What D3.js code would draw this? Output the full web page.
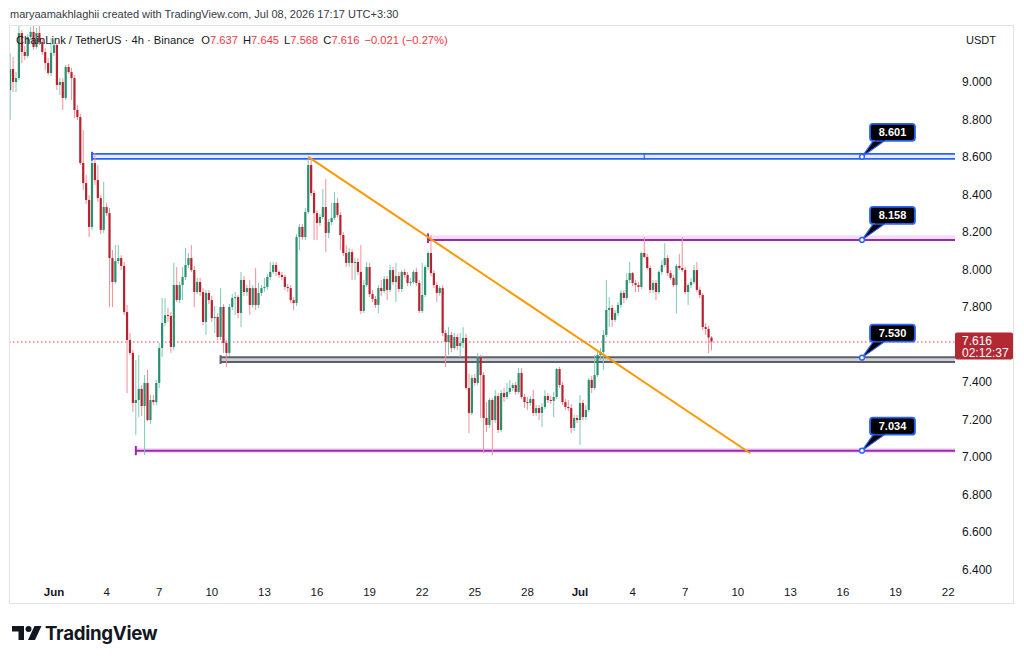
<!DOCTYPE html>
<html>
<head>
<meta charset="utf-8">
<script src="https://cdn.jsdelivr.net/npm/d3@7"></script>
<style>
  body { margin: 0; background: #fff; }
  svg { display: block; font-family: "Liberation Sans", Arial, sans-serif; }
</style>
</head>
<body>
<svg id="chart" width="1024" height="660"></svg>
<script>
// LINK/USDT 4h candles, first bar May 29 12:00, one bar every 4 hours
const firstBar = Date.UTC(2026, 4, 29, 12);
const barHours = 4;

const opens = [
  8.957, 9.069, 9.000, 9.021, 9.261, 9.160, 9.139, 9.240, 9.267, 9.187,
  9.261, 9.213, 9.160, 9.101, 9.048, 9.155, 9.197, 8.984, 9.000, 8.915,
  9.080, 9.053, 9.021, 8.851, 8.813, 8.568, 8.461, 8.371, 8.227, 8.568,
  8.477, 8.381, 8.211, 8.333, 8.301, 8.061, 7.933, 8.045, 8.061, 8.019,
  7.773, 7.624, 7.555, 7.288, 7.304, 7.363, 7.272, 7.395, 7.197, 7.304,
  7.293, 7.395, 7.581, 7.715, 7.757, 7.752, 7.587, 7.917, 7.837, 7.917,
  7.960, 8.024, 8.061, 7.997, 7.880, 7.933, 7.880, 7.720, 7.875, 7.837,
  7.741, 7.747, 7.640, 7.800, 7.608, 7.555, 7.800, 7.848, 7.853, 7.768,
  7.944, 7.880, 7.901, 7.811, 7.901, 7.811, 7.875, 7.901, 7.907, 7.960,
  7.987, 8.024, 7.987, 7.971, 7.960, 7.907, 7.901, 7.837, 7.821, 8.173,
  8.227, 8.173, 8.307, 8.557, 8.408, 8.301, 8.248, 8.280, 8.333, 8.195,
  8.253, 8.275, 8.355, 8.291, 8.184, 8.088, 8.035, 8.093, 8.035, 8.040,
  7.987, 7.779, 7.917, 8.013, 7.869, 7.843, 7.811, 7.901, 7.885, 7.949,
  7.891, 7.997, 7.933, 7.965, 7.896, 7.987, 7.971, 7.928, 7.933, 7.987,
  7.928, 7.779, 7.864, 8.013, 8.088, 7.981, 7.917, 7.875, 7.901, 7.661,
  7.613, 7.651, 7.581, 7.640, 7.592, 7.608, 7.635, 7.368, 7.235, 7.421,
  7.395, 7.533, 7.437, 7.208, 7.171, 7.304, 7.197, 7.325, 7.144, 7.341,
  7.320, 7.347, 7.368, 7.384, 7.347, 7.448, 7.320, 7.293, 7.288, 7.309,
  7.235, 7.261, 7.235, 7.267, 7.325, 7.304, 7.299, 7.320, 7.469, 7.384,
  7.293, 7.267, 7.261, 7.155, 7.208, 7.197, 7.288, 7.213, 7.251, 7.411,
  7.368, 7.437, 7.544, 7.560, 7.651, 7.784, 7.795, 7.731, 7.768, 7.811,
  7.875, 7.848, 7.944, 7.981, 7.928, 7.917, 7.907, 8.088, 8.067, 8.008,
  7.891, 7.928, 7.880, 7.987, 8.024, 8.061, 7.981, 7.955, 7.917, 8.019,
  8.008, 7.997, 7.880, 7.917, 7.933, 7.997, 7.891, 7.864, 7.693, 7.683,
  7.637
];

const highs = [
  9.155, 9.133, 9.053, 9.304, 9.277, 9.192, 9.256, 9.293, 9.304, 9.288,
  9.299, 9.235, 9.181, 9.128, 9.235, 9.224, 9.208, 9.021, 9.021, 9.091,
  9.096, 9.075, 9.037, 8.877, 8.829, 8.744, 8.504, 8.397, 8.584, 8.621,
  8.557, 8.397, 8.467, 8.355, 8.328, 8.104, 8.131, 8.131, 8.077, 8.040,
  7.811, 7.661, 7.571, 7.517, 7.544, 7.384, 7.437, 7.464, 7.331, 7.331,
  7.411, 7.608, 7.848, 7.848, 7.795, 7.773, 8.035, 8.013, 7.933, 8.013,
  8.115, 8.088, 8.131, 8.019, 7.955, 7.955, 7.901, 7.891, 7.891, 7.859,
  7.805, 7.768, 7.901, 7.816, 7.624, 7.816, 7.869, 7.880, 7.864, 7.987,
  7.965, 7.917, 7.944, 7.917, 8.008, 7.928, 7.917, 7.955, 7.976, 8.040,
  8.040, 8.040, 7.997, 7.987, 7.971, 7.923, 7.917, 7.853, 8.189, 8.243,
  8.243, 8.328, 8.605, 8.595, 8.424, 8.317, 8.296, 8.429, 8.483, 8.269,
  8.355, 8.413, 8.381, 8.307, 8.200, 8.131, 8.115, 8.109, 8.061, 8.061,
  8.131, 7.944, 8.040, 8.035, 7.891, 7.859, 7.917, 7.944, 7.965, 7.965,
  8.024, 8.013, 8.035, 7.987, 7.997, 8.003, 7.987, 7.955, 7.997, 8.008,
  7.944, 8.035, 8.024, 8.099, 8.184, 7.997, 7.933, 7.912, 7.917, 7.677,
  7.693, 7.667, 7.661, 7.656, 7.661, 7.693, 7.656, 7.443, 7.437, 7.443,
  7.555, 7.544, 7.453, 7.293, 7.315, 7.315, 7.357, 7.341, 7.357, 7.368,
  7.395, 7.411, 7.395, 7.400, 7.475, 7.475, 7.336, 7.320, 7.325, 7.357,
  7.277, 7.277, 7.288, 7.357, 7.341, 7.325, 7.347, 7.475, 7.480, 7.400,
  7.309, 7.304, 7.283, 7.224, 7.224, 7.331, 7.304, 7.277, 7.421, 7.432,
  7.544, 7.571, 7.581, 7.677, 7.944, 7.853, 7.811, 7.784, 7.827, 7.891,
  7.891, 7.981, 8.040, 7.987, 7.944, 7.933, 8.093, 8.173, 8.083, 8.024,
  7.944, 7.944, 7.997, 8.051, 8.141, 8.077, 7.997, 7.971, 8.029, 8.083,
  8.173, 8.013, 7.928, 7.955, 8.024, 8.040, 7.907, 7.875, 7.715, 7.699,
  7.645
];

const lows = [
  8.797, 8.947, 8.947, 9.011, 9.101, 9.117, 9.128, 9.224, 9.171, 9.176,
  9.197, 9.144, 9.064, 9.037, 9.032, 9.139, 8.957, 8.931, 8.851, 8.904,
  9.043, 8.904, 8.808, 8.797, 8.557, 8.424, 8.349, 8.173, 8.211, 8.451,
  8.360, 8.189, 8.195, 8.285, 7.800, 7.800, 7.923, 8.029, 7.997, 7.757,
  7.341, 7.544, 7.240, 7.117, 7.213, 7.219, 7.010, 7.192, 7.176, 7.277,
  7.277, 7.368, 7.533, 7.699, 7.720, 7.555, 7.571, 7.827, 7.821, 7.837,
  7.944, 8.008, 7.987, 7.800, 7.869, 7.859, 7.704, 7.651, 7.816, 7.720,
  7.661, 7.624, 7.624, 7.555, 7.480, 7.539, 7.784, 7.757, 7.741, 7.693,
  7.859, 7.859, 7.757, 7.795, 7.784, 7.795, 7.859, 7.880, 7.891, 7.944,
  7.976, 7.965, 7.955, 7.944, 7.891, 7.880, 7.821, 7.784, 7.805, 8.104,
  8.157, 8.157, 8.296, 8.392, 8.157, 8.157, 8.232, 8.269, 8.093, 8.168,
  8.237, 8.264, 8.280, 8.104, 8.072, 8.013, 8.013, 7.944, 7.944, 7.971,
  7.763, 7.768, 7.907, 7.853, 7.827, 7.795, 7.768, 7.859, 7.875, 7.837,
  7.880, 7.917, 7.827, 7.880, 7.880, 7.955, 7.912, 7.912, 7.923, 7.912,
  7.768, 7.768, 7.853, 7.997, 7.965, 7.901, 7.827, 7.859, 7.645, 7.480,
  7.544, 7.560, 7.571, 7.571, 7.533, 7.581, 7.357, 7.128, 7.224, 7.379,
  7.384, 7.208, 7.021, 7.133, 7.155, 7.011, 7.181, 7.128, 7.133, 7.293,
  7.309, 7.336, 7.352, 7.331, 7.336, 7.309, 7.261, 7.251, 7.272, 7.219,
  7.219, 7.197, 7.160, 7.256, 7.288, 7.283, 7.213, 7.309, 7.368, 7.277,
  7.251, 7.245, 7.128, 7.139, 7.181, 7.064, 7.197, 7.197, 7.240, 7.341,
  7.357, 7.427, 7.517, 7.464, 7.640, 7.693, 7.693, 7.720, 7.752, 7.795,
  7.821, 7.837, 7.928, 7.912, 7.880, 7.880, 7.896, 8.061, 7.997, 7.875,
  7.875, 7.837, 7.869, 7.971, 8.013, 7.965, 7.944, 7.907, 7.768, 7.997,
  7.987, 7.869, 7.811, 7.901, 7.923, 7.880, 7.848, 7.677, 7.651, 7.555,
  7.568
];

const closes = [
  9.069, 9.000, 9.021, 9.261, 9.160, 9.139, 9.240, 9.267, 9.187, 9.261,
  9.213, 9.160, 9.101, 9.048, 9.155, 9.197, 8.984, 9.000, 8.915, 9.080,
  9.053, 9.021, 8.851, 8.813, 8.568, 8.461, 8.371, 8.227, 8.568, 8.477,
  8.381, 8.211, 8.333, 8.301, 8.061, 7.933, 8.045, 8.061, 8.019, 7.773,
  7.624, 7.555, 7.288, 7.304, 7.363, 7.272, 7.395, 7.197, 7.304, 7.293,
  7.395, 7.581, 7.715, 7.757, 7.752, 7.587, 7.917, 7.837, 7.917, 7.960,
  8.024, 8.061, 7.997, 7.880, 7.933, 7.880, 7.720, 7.875, 7.837, 7.741,
  7.747, 7.640, 7.800, 7.608, 7.555, 7.800, 7.848, 7.853, 7.768, 7.944,
  7.880, 7.901, 7.811, 7.901, 7.811, 7.875, 7.901, 7.907, 7.960, 7.987,
  8.024, 7.987, 7.971, 7.960, 7.907, 7.901, 7.837, 7.821, 8.173, 8.227,
  8.173, 8.307, 8.557, 8.408, 8.301, 8.248, 8.280, 8.333, 8.195, 8.253,
  8.275, 8.355, 8.291, 8.184, 8.088, 8.035, 8.093, 8.035, 8.040, 7.987,
  7.779, 7.917, 8.013, 7.869, 7.843, 7.811, 7.901, 7.885, 7.949, 7.891,
  7.997, 7.933, 7.965, 7.896, 7.987, 7.971, 7.928, 7.933, 7.987, 7.928,
  7.779, 7.864, 8.013, 8.088, 7.981, 7.917, 7.875, 7.901, 7.661, 7.613,
  7.651, 7.581, 7.640, 7.592, 7.608, 7.635, 7.368, 7.235, 7.421, 7.395,
  7.533, 7.437, 7.208, 7.171, 7.304, 7.197, 7.325, 7.144, 7.341, 7.320,
  7.347, 7.368, 7.384, 7.347, 7.448, 7.320, 7.293, 7.288, 7.309, 7.235,
  7.261, 7.235, 7.267, 7.325, 7.304, 7.299, 7.320, 7.469, 7.384, 7.293,
  7.267, 7.261, 7.155, 7.208, 7.197, 7.288, 7.213, 7.251, 7.411, 7.368,
  7.437, 7.544, 7.560, 7.651, 7.784, 7.795, 7.731, 7.768, 7.811, 7.875,
  7.848, 7.944, 7.981, 7.928, 7.917, 7.907, 8.088, 8.067, 8.008, 7.891,
  7.928, 7.880, 7.987, 8.024, 8.061, 7.981, 7.955, 7.917, 8.019, 8.008,
  7.997, 7.880, 7.917, 7.933, 7.997, 7.891, 7.864, 7.693, 7.683, 7.637,
  7.616
];

const priceTicks = [6.4, 6.6, 6.8, 7.0, 7.2, 7.4, 7.8, 8.0, 8.2, 8.4, 8.6, 8.8, 9.0];
const dateTicks = [
  [2026, 5, 1], [2026, 5, 4], [2026, 5, 7], [2026, 5, 10], [2026, 5, 13], [2026, 5, 16],
  [2026, 5, 19], [2026, 5, 22], [2026, 5, 25], [2026, 5, 28], [2026, 6, 1], [2026, 6, 4],
  [2026, 6, 7], [2026, 6, 10], [2026, 6, 13], [2026, 6, 16], [2026, 6, 19], [2026, 6, 22]
];
const dateTickLabels = ['Jun', '4', '7', '10', '13', '16', '19', '22', '25', '28', 'Jul', '4', '7', '10', '13', '16', '19', '22'];

// drawn levels: price shown on the callout, band edges, first bar index
const levelNames = ['8.601', '8.158', '7.530', '7.034'];
const levelPrices = [8.601, 8.158, 7.530, 7.034];
const levelBands = [[8.590, 8.617], [8.152, 8.182], [7.507, 7.532], [7.020, 7.048]];
const levelStartBar = [28, 143, 72, 43];
const levelStyle = ['blue', 'purple', 'gray', 'purple'];

const trendFrom = { bar: 102, price: 8.601 };
const trendTo = { time: Date.UTC(2026, 6, 10, 17), price: 7.02 };
const calloutTime = Date.UTC(2026, 6, 17, 2);

const lastPrice = 7.616;
const countdown = '02:12:37';

const plot = { left: 9, right: 955, top: 25, bottom: 582 };

const svg = d3.select('#chart');
const barTime = i => new Date(firstBar + i * barHours * 3600e3);

const x = d3.scaleUtc()
  .domain([new Date(Date.UTC(2026, 5, 1)), new Date(Date.UTC(2026, 6, 1))])
  .range([54, 580]);

const y = d3.scaleLinear()
  .domain([7, 9])
  .range([457, 82]);

const candles = closes.map((c, i) => ({
  t: barTime(i), o: opens[i], h: highs[i], l: lows[i], c: c
}));

// frame
svg.append('rect')
  .attr('x', 9.5).attr('y', 25.5)
  .attr('width', 1004).attr('height', 578)
  .attr('fill', 'none').attr('stroke', '#e0e3eb');

svg.append('text')
  .attr('x', 10).attr('y', 18)
  .attr('font-size', 11).attr('fill', '#363a45')
  .text('maryaamakhlaghii created with TradingView.com, Jul 08, 2026 17:17 UTC+3:30');

svg.append('defs').append('clipPath').attr('id', 'plot-clip')
  .append('rect')
  .attr('x', plot.left + 1).attr('y', plot.top + 1)
  .attr('width', plot.right - plot.left - 1).attr('height', plot.bottom - plot.top);

const chart = svg.append('g').attr('clip-path', 'url(#plot-clip)');

// level bands (drawn behind candles)
const bandColors = {
  blue: { fill: 'rgba(41,98,255,0.12)', stroke: '#2962ff', w: 1.8 },
  purple: { fill: 'rgba(156,39,176,0.15)', stroke: '#9c27b0', w: 2 },
  gray: { fill: 'rgba(120,123,134,0.35)', stroke: '#5d606b', w: 2 }
};

levelPrices.forEach((p, k) => {
  const st = bandColors[levelStyle[k]];
  const x0 = x(barTime(levelStartBar[k]));
  const g = chart.append('g');
  g.append('rect')
    .attr('x', x0).attr('width', plot.right - x0)
    .attr('y', y(levelBands[k][1]))
    .attr('height', y(levelBands[k][0]) - y(levelBands[k][1]))
    .attr('fill', st.fill);
  if (levelStyle[k] === 'purple') {
    g.append('line')
      .attr('x1', x0).attr('x2', plot.right)
      .attr('y1', y(p)).attr('y2', y(p))
      .attr('stroke', st.stroke).attr('stroke-width', st.w);
  } else {
    levelBands[k].forEach(b => {
      g.append('line')
        .attr('x1', x0).attr('x2', plot.right)
        .attr('y1', y(b)).attr('y2', y(b))
        .attr('stroke', st.stroke).attr('stroke-width', st.w);
    });
  }
  g.append('line')
    .attr('x1', x0).attr('x2', x0)
    .attr('y1', y(levelBands[k][1]) - 2).attr('y2', y(levelBands[k][0]) + 2)
    .attr('stroke', st.stroke).attr('stroke-width', 2);
});

// small handle on the blue band
chart.append('line')
  .attr('x1', x(barTime(217))).attr('x2', x(barTime(217)))
  .attr('y1', y(8.622)).attr('y2', y(8.586))
  .attr('stroke', '#2962ff').attr('stroke-width', 1.2);

// current price line
chart.append('line')
  .attr('x1', plot.left).attr('x2', plot.right)
  .attr('y1', y(lastPrice) + 0.5).attr('y2', y(lastPrice) + 0.5)
  .attr('stroke', '#f23645').attr('stroke-width', 1)
  .attr('stroke-dasharray', '1.5 2.5');

// candles
const upBody = '#2b8f70', downBody = '#b8222f';
const upWick = '#7ccbb6', downWick = '#f2909a';
const bodyW = 2.2;

const cg = chart.append('g');
cg.selectAll('.wick')
  .data(candles)
  .enter()
  .append('line')
  .attr('class', 'wick')
  .attr('x1', d => x(d.t)).attr('x2', d => x(d.t))
  .attr('y1', d => y(d.h)).attr('y2', d => y(d.l))
  .attr('stroke', d => d.c >= d.o ? upWick : downWick)
  .attr('stroke-width', 1);

cg.selectAll('.body')
  .data(candles)
  .enter()
  .append('rect')
  .attr('class', 'body')
  .attr('x', d => x(d.t) - bodyW / 2)
  .attr('width', bodyW)
  .attr('y', d => y(Math.max(d.o, d.c)))
  .attr('height', d => Math.max(1, Math.abs(y(d.o) - y(d.c))))
  .attr('fill', d => d.c >= d.o ? upBody : downBody);

// trend line
chart.append('line')
  .attr('x1', x(barTime(trendFrom.bar))).attr('y1', y(trendFrom.price))
  .attr('x2', x(new Date(trendTo.time))).attr('y2', y(trendTo.price))
  .attr('stroke', '#ff9800').attr('stroke-width', 2);

// callouts
const cx = x(new Date(calloutTime));
levelPrices.forEach((p, k) => {
  const py = y(p);
  const g = svg.append('g');
  const bx = cx + 8, by = py - 33, bw = 45, bh = 17;
  g.append('path')
    .attr('d', `M${cx},${py} L${bx + 4},${by + bh - 1} L${bx + 16},${by + bh - 1} Z`)
    .attr('fill', '#000').attr('stroke', '#2962ff').attr('stroke-width', 1.2)
    .attr('stroke-linejoin', 'round');
  g.append('rect')
    .attr('x', bx).attr('y', by).attr('width', bw).attr('height', bh)
    .attr('rx', 3)
    .attr('fill', '#000').attr('stroke', '#2962ff').attr('stroke-width', 1.8);
  g.append('path')
    .attr('d', `M${bx + 5},${by + bh - 1.5} L${bx + 15},${by + bh - 1.5}`)
    .attr('stroke', '#000').attr('stroke-width', 2.2);
  g.append('text')
    .attr('x', bx + bw / 2).attr('y', by + 12.5)
    .attr('text-anchor', 'middle')
    .attr('font-size', 11).attr('font-weight', 'bold').attr('fill', '#fff')
    .text(levelNames[k]);
  g.append('circle')
    .attr('cx', cx).attr('cy', py).attr('r', 2.4)
    .attr('fill', '#fff').attr('stroke', '#2962ff').attr('stroke-width', 1.4);
});

// legend
const legend = svg.append('text')
  .attr('x', 16).attr('y', 44)
  .attr('font-size', 11.2).attr('fill', '#131722');
legend.append('tspan').text('ChainLink / TetherUS · 4h · Binance');
const last = candles[candles.length - 1];
[['O', last.o], ['H', last.h], ['L', last.l], ['C', last.c]].forEach((d, i) => {
  legend.append('tspan').attr('dx', i === 0 ? 7 : 5).attr('fill', '#131722').text(d[0]);
  legend.append('tspan').attr('fill', '#f23645').text(d3.format('.3f')(d[1]));
});
legend.append('tspan').attr('dx', 5).attr('fill', '#f23645')
  .text('\u22120.021 (\u22120.27%)');

// price axis
svg.append('text')
  .attr('x', 966).attr('y', 44)
  .attr('font-size', 11).attr('fill', '#131722')
  .text('USDT');

svg.append('g')
  .selectAll('text')
  .data(priceTicks)
  .enter()
  .append('text')
  .attr('x', 962)
  .attr('y', d => y(d) + 4)
  .attr('font-size', 12)
  .attr('fill', '#131722')
  .text(d => d3.format('.3f')(d));

svg.append('rect')
  .attr('x', 955).attr('y', y(lastPrice) - 9)
  .attr('width', 58).attr('height', 27)
  .attr('rx', 2)
  .attr('fill', '#b22833');
svg.append('text')
  .attr('x', 962).attr('y', y(lastPrice) + 3)
  .attr('font-size', 12).attr('fill', '#fff')
  .text(d3.format('.3f')(lastPrice));
svg.append('text')
  .attr('x', 962).attr('y', y(lastPrice) + 15)
  .attr('font-size', 12).attr('fill', '#fff')
  .text(countdown);

// time axis
svg.append('g')
  .selectAll('text')
  .data(dateTicks)
  .enter()
  .append('text')
  .attr('x', d => x(new Date(Date.UTC(d[0], d[1], d[2]))))
  .attr('y', 596)
  .attr('text-anchor', 'middle')
  .attr('font-size', 11.5)
  .attr('fill', '#131722')
  .attr('font-weight', (d, i) => isNaN(+dateTickLabels[i]) ? 'bold' : 'normal')
  .text((d, i) => dateTickLabels[i]);

// TradingView logo
const logo = svg.append('g').attr('fill', '#131722');
logo.append('path').attr('d', 'M12,626 h12 v14 h-5.5 v-8.5 h-6.5 z');
logo.append('circle').attr('cx', 28.5).attr('cy', 629).attr('r', 3);
logo.append('path').attr('d', 'M34.5,626 h7 l-6.5,14 h-7 z');
logo.append('text')
  .attr('x', 45).attr('y', 640)
  .attr('font-size', 18.7).attr('font-weight', 'bold')
  .attr('font-family', 'Inter, "Liberation Sans", sans-serif')
  .attr('letter-spacing', -0.3)
  .text('TradingView');
</script>
</body>
</html>
